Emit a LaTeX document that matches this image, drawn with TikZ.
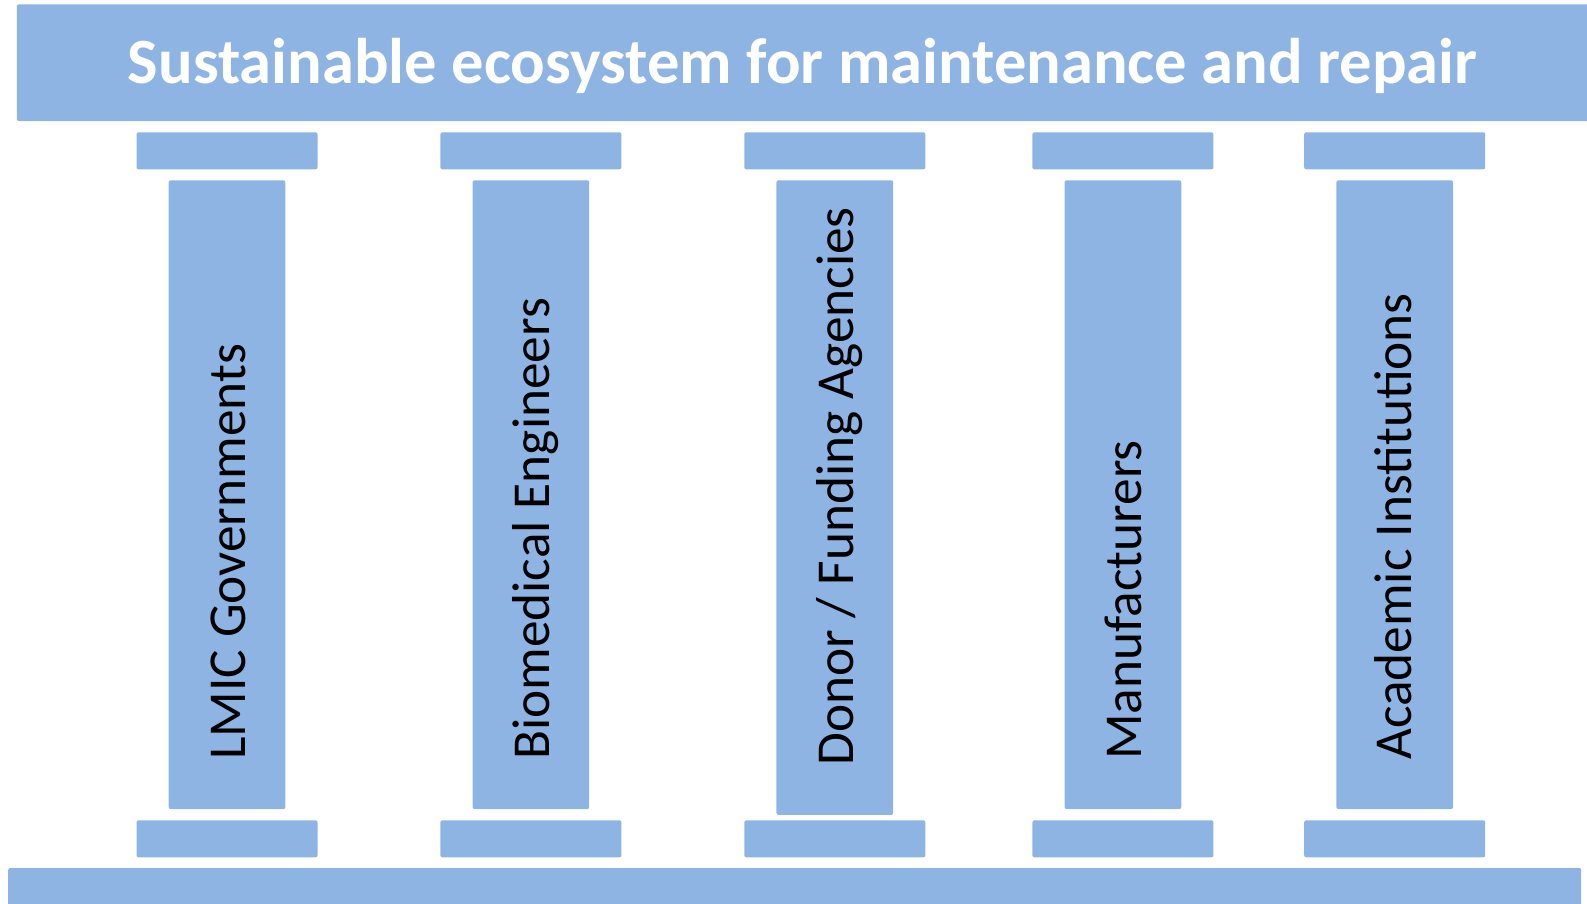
\documentclass[tikz,border=0pt]{standalone}
\usepackage{fontspec}
\setmainfont{Carlito}
\definecolor{pillarblue}{RGB}{142,180,227}

\begin{document}
\begin{tikzpicture}[
    x=0.75pt, y=-0.75pt,
    slab/.style={rectangle, fill=pillarblue, rounded corners=1.5pt, inner sep=0pt},
    roof/.style={slab, minimum width=1179.75pt, minimum height=87.5pt},
    plinth/.style={slab, minimum width=1179.75pt, minimum height=60pt},
    capital/.style={slab, minimum width=135.75pt, minimum height=27.75pt},
    shaft/.style={slab, minimum width=87.5pt, minimum height=471.5pt},
    title/.style={font=\fontsize{48.4}{58}\selectfont\bfseries, text=white, inner sep=0pt, anchor=base},
    pillarlabel/.style={font=\fontsize{40}{48}\selectfont, rotate=90, anchor=base west, inner sep=0pt}
]
\useasboundingbox (0,0) rectangle (1587,903);
\clip (0,0) rectangle (1587,903);

% Roof and floor
\node[roof] (roof) at (803.3,62.7) {};
\node[title] (title) at (802.6,83.3) {Sustainable ecosystem for maintenance and repair};
\node[plinth] (floor) at (794.7,908) {};

% Capitals on top
\node[capital] (capgov) at (227,150.8) {};
\node[capital] (capbme) at (530.9,150.8) {};
\node[capital] (capdon) at (834.8,150.8) {};
\node[capital] (capman) at (1122.9,150.8) {};
\node[capital] (capaca) at (1394.7,150.8) {};

% Pillars
\node[shaft] (gov) at (227,494.7) {};
\node[shaft] (bme) at (530.9,494.7) {};
\node[shaft, minimum height=476pt] (don) at (834.8,497.6) {};
\node[shaft] (man) at (1122.9,494.7) {};
\node[shaft] (aca) at (1394.7,494.7) {};

% Bases underneath
\node[capital] (basegov) at (227,838.8) {};
\node[capital] (basebme) at (530.9,838.8) {};
\node[capital] (basedon) at (834.8,838.8) {};
\node[capital] (baseman) at (1122.9,838.8) {};
\node[capital] (baseaca) at (1394.7,838.8) {};

% Pillar names
\node[pillarlabel] (govtext) at (245.7,760) {LMIC Governments};
\node[pillarlabel] (bmetext) at (549,760) {Biomedical Engineers};
\node[pillarlabel] (dontext) at (853.3,766) {Donor / Funding Agencies};
\node[pillarlabel] (mantext) at (1141,760) {Manufacturers};
\node[pillarlabel] (acatext) at (1411,760) {Academic Institutions};

\end{tikzpicture}
\end{document}
